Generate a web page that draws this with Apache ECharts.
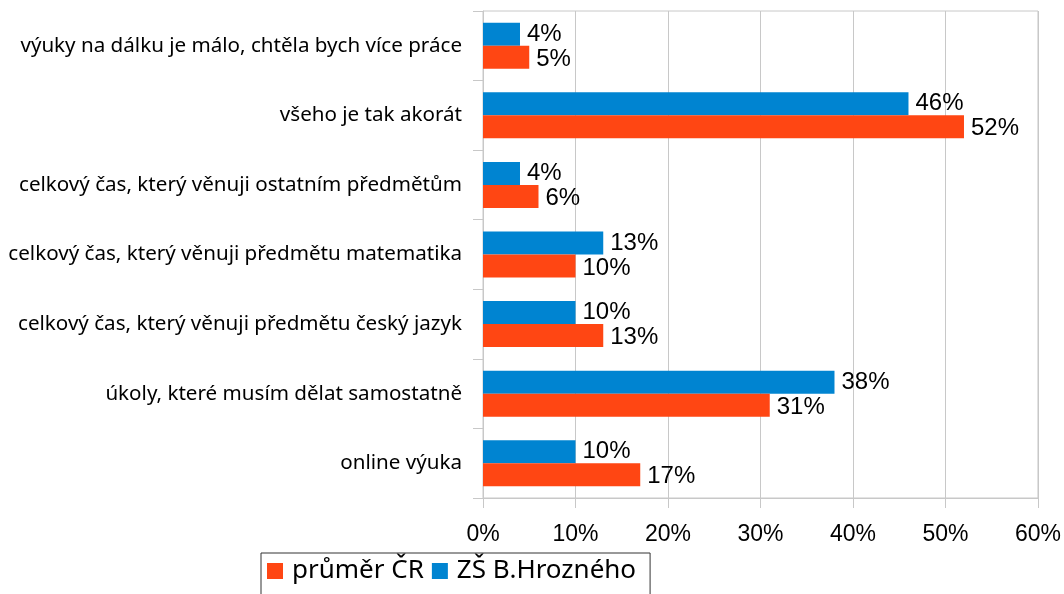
<!DOCTYPE html>
<html>
<head>
<meta charset="utf-8">
<script src="https://cdn.jsdelivr.net/npm/echarts@6/dist/echarts.min.js"></script>
<style>
  html, body { margin: 0; padding: 0; background: #fff; }
  #chart { width: 1064px; height: 594px; }
</style>
</head>
<body>
<div id="chart"></div>
<script>
  // kategorie odshora dolů
  var categories = [
    "výuky na dálku je málo, chtěla bych více práce",
    "všeho je tak akorát",
    "celkový čas, který věnuji ostatním předmětům",
    "celkový čas, který věnuji předmětu matematika",
    "celkový čas, který věnuji předmětu český jazyk",
    "úkoly, které musím dělat samostatně",
    "online výuka"
  ]
  var skolaValues = [4, 46, 4, 13, 10, 38, 10]
  var prumerValues = [5, 52, 6, 10, 13, 31, 17]
  var seriesNames = ["průměr ČR", "ZŠ B.Hrozného"]

  var chart = echarts.init(document.getElementById("chart"))

  var labelStyle = {
    show: true,
    position: "right",
    distance: 7,
    formatter: "{c}%",
    color: "#000",
    fontFamily: "Liberation Sans",
    fontSize: 24
  }

  chart.setOption({
    animation: false,
    grid: {
      left: 483,
      right: 17,
      top: 11,
      bottom: 96,
      show: true,
      borderColor: "#c8c8c8",
      borderWidth: 1
    },
    legend: {
      data: seriesNames,
      left: 261,
      top: 553,
      orient: "horizontal",
      icon: "rect",
      itemWidth: 16,
      itemHeight: 16,
      itemGap: 8,
      padding: [5, 14, 12, 6],
      borderColor: "#333",
      borderWidth: 1,
      textStyle: {
        fontFamily: "Noto Sans",
        fontSize: 26,
        color: "#000",
        padding: [0, 0, 0, 4]
      }
    },
    xAxis: {
      type: "value",
      min: 0,
      max: 60,
      interval: 10,
      axisLine: { show: true, lineStyle: { color: "#c8c8c8" } },
      axisTick: { show: true, length: 10, lineStyle: { color: "#c8c8c8" } },
      splitLine: { show: true, lineStyle: { color: "#c8c8c8" } },
      axisLabel: {
        formatter: "{value}%",
        color: "#000",
        fontFamily: "Liberation Sans",
        fontSize: 23,
        margin: 25
      }
    },
    yAxis: {
      type: "category",
      inverse: true,
      data: categories,
      axisLine: { show: true, lineStyle: { color: "#c8c8c8" } },
      axisTick: { show: true, length: 10, lineStyle: { color: "#c8c8c8" } },
      axisLabel: {
        color: "#000",
        fontFamily: "Noto Sans",
        fontSize: 20.6,
        margin: 21
      }
    },
    series: [
      {
        name: "ZŠ B.Hrozného",
        type: "bar",
        data: skolaValues,
        barWidth: 23,
        barGap: "0%",
        itemStyle: { color: "#0084d1" },
        label: Object.assign({}, labelStyle, { offset: [0, 0] })
      },
      {
        name: "průměr ČR",
        type: "bar",
        data: prumerValues,
        barWidth: 23,
        barGap: "0%",
        itemStyle: { color: "#ff4613" },
        label: Object.assign({}, labelStyle, { offset: [0, 2] })
      }
    ]
  })
</script>
</body>
</html>
